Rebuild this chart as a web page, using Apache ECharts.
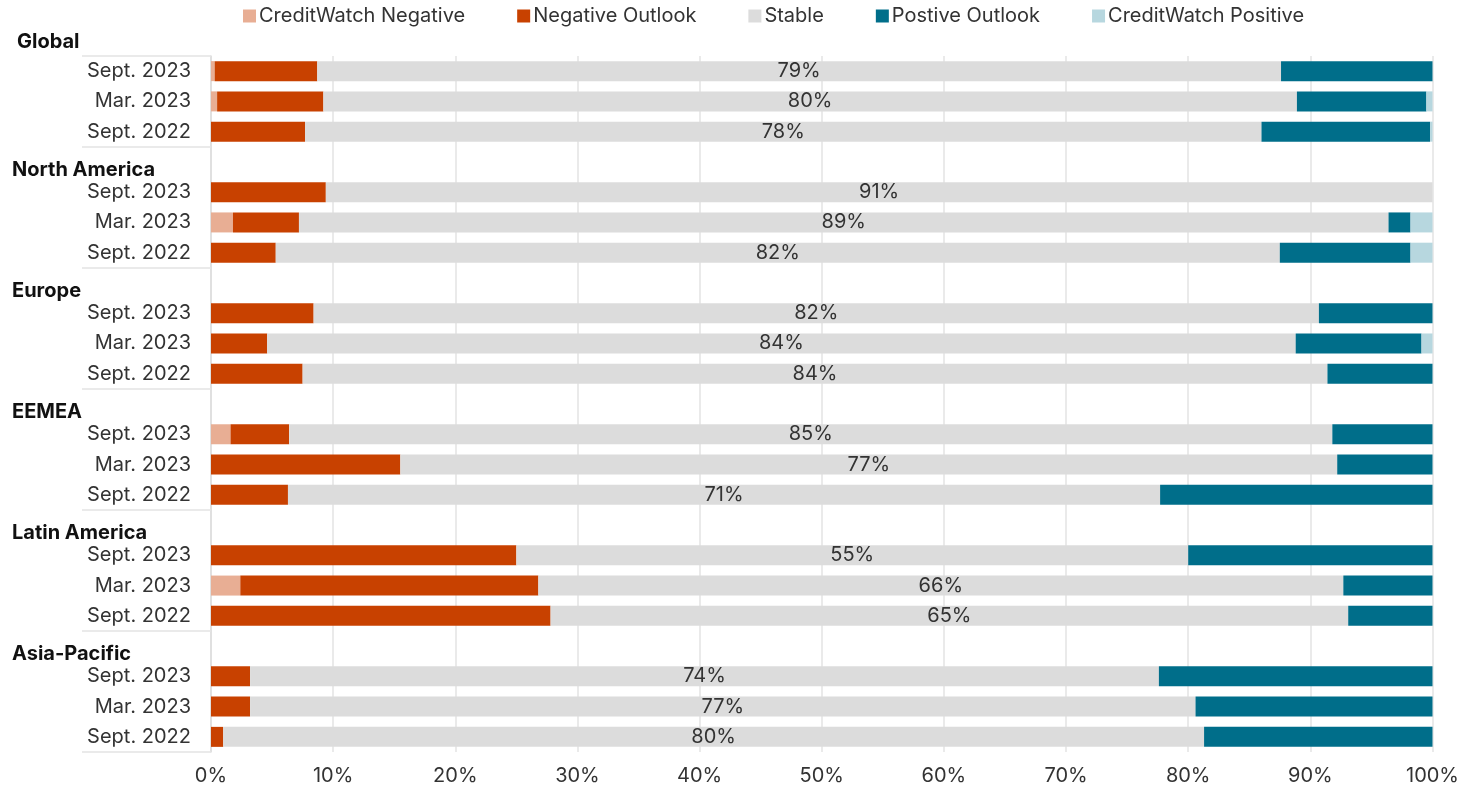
<!DOCTYPE html>
<html><head><meta charset="utf-8">
<script src="https://cdn.jsdelivr.net/npm/echarts@6/dist/echarts.min.js"></script>
<style>html,body{margin:0;padding:0;background:#fff}#c{width:1462px;height:791px}</style>
</head><body><div id="c"></div>
<script>
const groups = ['Global', 'North America', 'Europe', 'EEMEA', 'Latin America', 'Asia-Pacific'];
const periods = ['Sept. 2023', 'Mar. 2023', 'Sept. 2022'];
const seriesNames = ['CreditWatch Negative', 'Negative Outlook', 'Stable', 'Postive Outlook', 'CreditWatch Positive'];
const xTicks = [0, 10, 20, 30, 40, 50, 60, 70, 80, 90, 100];

// each inner array follows "periods"; outer arrays follow "groups"
const creditWatchNegative = [[0.3, 0.5, 0], [0, 1.8, 0], [0, 0, 0], [1.6, 0, 0], [0, 2.4, 0], [0, 0, 0]];
const negativeOutlook = [[8.4, 8.7, 7.7], [9.4, 5.4, 5.3], [8.4, 4.6, 7.5], [4.8, 15.5, 6.3], [25.0, 24.4, 27.8], [3.2, 3.2, 1.0]];
const stable = [[78.9, 79.7, 78.3], [90.6, 89.2, 82.2], [82.3, 84.2, 83.9], [85.4, 76.7, 71.4], [55.0, 65.9, 65.3], [74.4, 77.4, 80.3]];
const positiveOutlook = [[12.4, 10.6, 13.8], [0, 1.8, 10.7], [9.3, 10.3, 8.6], [8.2, 7.8, 22.3], [20.0, 7.3, 6.9], [22.4, 19.4, 18.7]];
const creditWatchPositive = [[0, 0.5, 0.2], [0, 1.8, 1.8], [0, 0.9, 0], [0, 0, 0], [0, 0, 0], [0, 0, 0]];

const colors = ['#E8AE94', '#C84100', '#DCDCDC', '#006E8A', '#B7D7DF'];
const FONT = 'Inter, "Noto Sans", sans-serif';

// build rows: first group's label sits above the plot; others have their own label row
const rows = [];
groups.forEach((g, gi) => {
  if (gi > 0) rows.push({ group: g, period: null, gi: gi, pi: -1 });
  periods.forEach((p, pi) => rows.push({ group: g, period: p, gi: gi, pi: pi }));
});
const categories = rows.map(r => r.period ? r.group + '|' + r.period : r.group);

const seriesValues = [creditWatchNegative, negativeOutlook, stable, positiveOutlook, creditWatchPositive];

const series = seriesNames.map((name, si) => ({
  name: name,
  type: 'bar',
  stack: 'total',
  yAxisIndex: 0,
  barWidth: 20,
  itemStyle: { color: colors[si] },
  label: si === 2 ? {
    show: true,
    position: 'inside',
    formatter: p => Math.round(p.value) + '%',
    color: '#333',
    fontSize: 20,
    fontFamily: FONT
  } : { show: false },
  emphasis: { disabled: true },
  data: rows.map(r => r.period ? seriesValues[si][r.gi][r.pi] : '-')
}));

const chart = echarts.init(document.getElementById('c'), null, { renderer: 'canvas' });
chart.setOption({
  animation: false,
  backgroundColor: '#fff',
  title: {
    text: groups[0],
    left: 12,
    top: 27,
    textStyle: { fontSize: 20, fontWeight: 'bold', color: '#111', fontFamily: FONT }
  },
  legend: {
    data: seriesNames,
    left: 243,
    top: 6,
    padding: 0,
    icon: 'rect',
    itemWidth: 13,
    itemHeight: 13,
    itemGap: 52,
    textStyle: { fontSize: 20, color: '#333', fontFamily: FONT, padding: [0, 0, 0, -2] }
  },
  grid: { left: 211, right: 29, top: 56, bottom: 39, containLabel: false },
  xAxis: {
    type: 'value',
    min: xTicks[0],
    max: xTicks[xTicks.length - 1],
    interval: 10,
    axisLine: { show: false },
    axisTick: { show: false },
    splitLine: { show: true, lineStyle: { color: '#E3E3E3', width: 1.5 } },
    axisLabel: {
      formatter: v => v + '%',
      fontSize: 20,
      color: '#333',
      fontFamily: FONT,
      margin: 14
    }
  },
  yAxis: [{
    type: 'category',
    inverse: true,
    data: categories,
    axisLine: { show: true, lineStyle: { color: '#DDDDDD', width: 1.5 } },
    axisTick: {
      show: true,
      length: 129,
      lineStyle: { color: '#E3E3E3', width: 1.5 },
      interval: (index) => index === 0 || rows[index].period === null
    },
    axisLabel: {
      interval: 0,
      margin: 20,
      fontSize: 20,
      color: '#333',
      fontFamily: FONT,
      formatter: (v, i) => rows[i].period ? rows[i].period : ''
    },
    splitLine: { show: false }
  }, {
    type: 'category',
    inverse: true,
    position: 'left',
    data: categories,
    axisLine: { show: false },
    axisTick: { show: false },
    axisLabel: {
      interval: 0,
      margin: 199,
      align: 'left',
      verticalAlign: 'top',
      lineHeight: 16,
      fontSize: 20,
      fontWeight: 'bold',
      color: '#111',
      fontFamily: FONT,
      formatter: (v, i) => rows[i].period ? '' : rows[i].group
    },
    splitLine: { show: false }
  }],
  series: series
});
</script>
</body></html>
